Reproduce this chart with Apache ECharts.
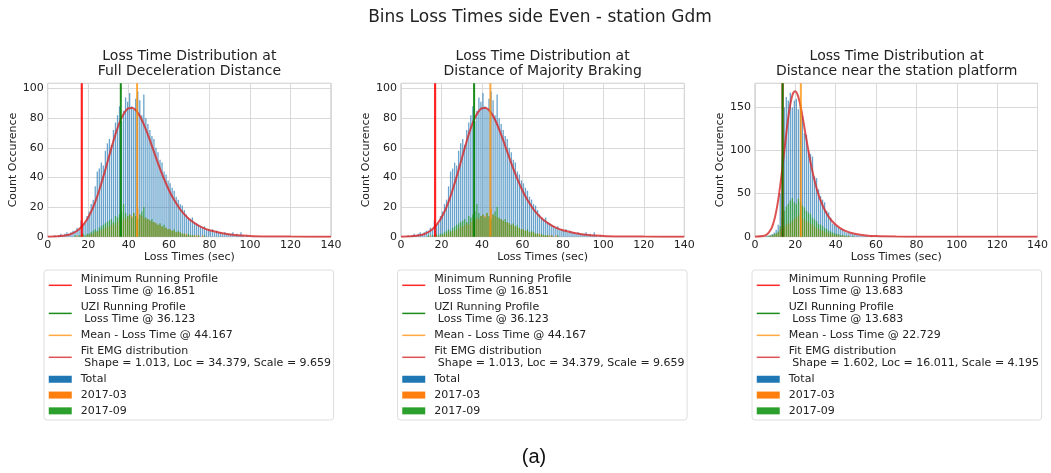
<!DOCTYPE html>
<html>
<head>
<meta charset="utf-8">
<script src="https://cdn.jsdelivr.net/npm/echarts@6/dist/echarts.min.js"></script>
<style>
  html, body { margin: 0; padding: 0; background: #fff; }
  #chart { width: 1051px; height: 473px; }
</style>
</head>
<body>
<div id="chart"></div>
<script>
// Histogram counts in 1-second bins, first bin starts at 0 s
const binWidth = 1;

// Braking zones (full deceleration / majority braking share the same sample)
const totalBraking = [
  0, 0, 0, 1, 0, 1, 2, 1, 2, 3,
  2, 3, 4, 4, 6, 5, 11, 8, 9, 14,
  17, 22, 25, 34, 44, 46, 50, 48, 58, 63,
  66, 62, 72, 77, 82, 88, 78, 85, 94, 91,
  97, 88, 86, 93, 98, 92, 82, 96, 80, 76,
  72, 68, 66, 60, 57, 52, 50, 44, 42, 38,
  36, 33, 31, 27, 25, 22, 21, 18, 15, 13,
  12, 13, 10, 9, 8, 7, 6, 7, 5, 5,
  4, 5, 3, 4, 3, 3, 2, 3, 2, 2,
  2, 3, 1, 2, 1, 3, 1, 0, 1, 0
];
const march2017Braking = [
  0, 0, 0, 0, 0, 0, 0, 0, 0, 0,
  0, 0, 0, 0, 1, 0, 1, 1, 0, 1,
  1, 2, 2, 3, 3, 4, 4, 5, 6, 7,
  7, 8, 9, 8, 10, 12, 11, 13, 12, 14,
  15, 14, 16, 13, 19, 15, 14, 13, 12, 12,
  11, 10, 10, 9, 8, 8, 7, 6, 6, 5,
  5, 4, 4, 3, 3, 3, 2, 2, 2, 1,
  1, 1, 1, 1, 1, 0, 1, 0, 0, 0,
  0, 0, 0, 0, 0, 0, 0, 0, 0, 0,
  0, 0, 0, 0, 0, 0, 0, 0, 0, 0
];
const sept2017Braking = [
  0, 0, 0, 0, 0, 0, 0, 0, 0, 0,
  0, 0, 0, 1, 0, 1, 1, 2, 1, 2,
  2, 3, 4, 5, 4, 6, 7, 8, 9, 10,
  11, 12, 10, 14, 13, 15, 17, 22, 16, 14,
  15, 13, 16, 14, 12, 15, 17, 20, 13, 12,
  11, 12, 10, 9, 8, 9, 7, 8, 6, 5,
  5, 4, 5, 3, 4, 3, 2, 2, 1, 2,
  1, 1, 1, 0, 1, 0, 0, 1, 0, 0,
  0, 0, 0, 0, 0, 0, 0, 0, 0, 0,
  0, 0, 0, 0, 0, 0, 0, 0, 0, 0
];

// Near the station platform
const totalPlatform = [
  0, 0, 0, 0, 0, 1, 1, 2, 3, 5,
  8, 14, 50, 93, 150, 162, 158, 167, 150, 158,
  160, 148, 155, 140, 120, 118, 100, 96, 93, 70,
  68, 55, 47, 43, 40, 30, 28, 22, 15, 14,
  12, 10, 9, 8, 6, 5, 5, 4, 3, 3,
  2, 2, 1, 1, 1, 1, 0, 1, 0, 0
];
const march2017Platform = [
  0, 0, 0, 0, 0, 0, 0, 1, 1, 2,
  3, 5, 8, 10, 12, 14, 16, 15, 18, 20,
  22, 24, 26, 21, 20, 18, 17, 15, 14, 12,
  10, 9, 8, 7, 6, 5, 4, 3, 3, 2,
  2, 1, 1, 1, 1, 0, 1, 0, 0, 0,
  0, 0, 0, 0, 0, 0, 0, 0, 0, 0
];
const sept2017Platform = [
  0, 0, 0, 0, 0, 0, 1, 1, 2, 3,
  4, 6, 12, 22, 30, 35, 38, 42, 45, 40,
  38, 44, 40, 36, 34, 30, 28, 26, 22, 20,
  18, 15, 14, 12, 10, 9, 7, 6, 5, 4,
  3, 3, 2, 2, 1, 1, 1, 0, 1, 0,
  0, 0, 0, 0, 0, 0, 0, 0, 0, 0
];

// Fitted EMG curves, in counts
const fitBrakingX = [0, 5, 10, 12, 14, 16, 18, 20, 22, 24, 26, 28, 30, 32, 34, 36, 38, 40, 42, 44, 46, 48, 50, 52, 54, 56, 58, 60, 62, 65, 67, 70, 75, 80, 90, 100, 110, 120, 140];
const fitBrakingY = [0.04, 0.25, 1.2, 2.1, 3.5, 5.7, 8.8, 13.0, 18.5, 25.4, 33.7, 42.9, 52.6, 62.3, 71.2, 78.6, 83.9, 86.7, 86.9, 84.6, 80.2, 74.1, 67.0, 59.3, 51.5, 44.1, 37.3, 31.2, 25.9, 19.4, 15.9, 11.8, 7.1, 4.3, 1.5, 0.55, 0.2, 0.07, 0.01];
const fitPlatformX = [0, 4, 6, 8, 9, 10, 11, 12, 13, 14, 15, 16, 17, 18, 19, 20, 21, 22, 23, 24, 26, 28, 30, 32, 35, 38, 42, 46, 50, 55, 60, 70, 80, 140];
const fitPlatformY = [0.02, 0.7, 2.8, 9.0, 15.0, 23.6, 35.4, 50.5, 68.5, 88.7, 109.5, 129.4, 146.6, 159.5, 167.1, 168.9, 165.5, 157.6, 146.6, 133.4, 105.8, 80.7, 60.5, 45.1, 28.9, 18.5, 10.2, 5.6, 3.1, 1.5, 0.7, 0.16, 0.04, 0];

// Reference loss times (sec) and fit parameters
const minRunning = [16.851, 16.851, 13.683];
const uziRunning = [36.123, 36.123, 13.683];
const meanLoss = [44.167, 44.167, 22.729];
const emgShape = [1.013, 1.013, 1.602];
const emgLoc = [34.379, 34.379, 16.011];
const emgScale = [9.659, 9.659, 4.195];

const panelTitles = [
  'Loss Time Distribution at\nFull Deceleration Distance',
  'Loss Time Distribution at\nDistance of Majority Braking',
  'Loss Time Distribution at\nDistance near the station platform'
];
const suptitle = 'Bins Loss Times side Even - station Gdm';
const caption = '(a)';
const xLabel = 'Loss Times (sec)';
const yLabel = 'Count Occurence';

const FONT = 'DejaVu Sans';
const TXT = '#222';

const panels = [
  { total: totalBraking, m03: march2017Braking, m09: sept2017Braking, fitX: fitBrakingX, fitY: fitBrakingY,
    left: 47.7, yMax: 103.5, yInterval: 20, legendLeft: 44 },
  { total: totalBraking, m03: march2017Braking, m09: sept2017Braking, fitX: fitBrakingX, fitY: fitBrakingY,
    left: 401, yMax: 103.5, yInterval: 20, legendLeft: 397.5 },
  { total: totalPlatform, m03: march2017Platform, m09: sept2017Platform, fitX: fitPlatformX, fitY: fitPlatformY,
    left: 755, yMax: 178, yInterval: 50, legendLeft: 752 }
];
const plotWidth = 283.3, plotTop = 83.3, plotHeight = 153.4;

const fmt = v => v.toFixed(3);
const bins = arr => arr.map((v, i) => [i * binWidth + binWidth / 2, v]);
const pairs = (xs, ys) => xs.map((x, i) => [x, ys[i]]);

const grids = [], xAxes = [], yAxes = [], series = [], legends = [];
const titles = [
  { text: suptitle, left: 540, top: 8, textAlign: 'center', padding: 0,
    textStyle: { fontFamily: FONT, fontSize: 17, fontWeight: 'normal', color: TXT, lineHeight: 20 } },
  { text: caption, left: 534, top: 446, textAlign: 'center', padding: 0,
    textStyle: { fontFamily: 'Liberation Sans', fontSize: 20, fontWeight: 'normal', color: '#111', lineHeight: 22 } }
];

panels.forEach((p, k) => {
  const names = {
    min: 'Minimum Running Profile\n Loss Time @ ' + fmt(minRunning[k]),
    uzi: 'UZI Running Profile\n Loss Time @ ' + fmt(uziRunning[k]),
    mean: 'Mean - Loss Time @ ' + fmt(meanLoss[k]),
    fit: 'Fit EMG distribution\n Shape = ' + fmt(emgShape[k]) + ', Loc = ' + fmt(emgLoc[k]) + ', Scale = ' + fmt(emgScale[k])
  };

  grids.push({ left: p.left, top: plotTop, width: plotWidth, height: plotHeight,
    show: true, borderColor: '#bdbdbd', borderWidth: 1, backgroundColor: '#fff' });

  xAxes.push({
    type: 'value', gridIndex: k, min: 0, max: 140, interval: 20,
    axisLine: { show: false }, axisTick: { show: false },
    splitLine: { show: true, lineStyle: { color: '#d9d9d9', width: 1 } },
    axisLabel: { fontFamily: FONT, fontSize: 11, color: TXT, margin: 3 },
    name: xLabel, nameLocation: 'middle', nameGap: 13,
    nameTextStyle: { fontFamily: FONT, fontSize: 11, color: TXT }
  });
  yAxes.push({
    type: 'value', gridIndex: k, min: 0, max: p.yMax, interval: p.yInterval,
    axisLine: { show: false }, axisTick: { show: false },
    splitLine: { show: true, lineStyle: { color: '#d9d9d9', width: 1 } },
    axisLabel: { fontFamily: FONT, fontSize: 11, color: TXT, margin: 4, showMaxLabel: false },
    name: yLabel, nameLocation: 'middle', nameGap: 23,
    nameTextStyle: { fontFamily: FONT, fontSize: 11, color: TXT }
  });

  const barBase = { type: 'bar', xAxisIndex: k, yAxisIndex: k, barWidth: 1.3, barGap: '-100%', animation: false };
  series.push(
    Object.assign({}, barBase, { name: 'Total', data: bins(p.total), itemStyle: { color: '#1f77b4', opacity: 0.68 } }),
    Object.assign({}, barBase, { name: '2017-03', data: bins(p.m03), itemStyle: { color: '#ff7f0e', opacity: 0.75 } }),
    Object.assign({}, barBase, { name: '2017-09', data: bins(p.m09), itemStyle: { color: '#2ca02c', opacity: 0.75 } }),
    { type: 'line', name: names.fit, xAxisIndex: k, yAxisIndex: k, data: pairs(p.fitX, p.fitY),
      smooth: 0.3, symbol: 'none', z: 3,
      itemStyle: { color: '#d9534f' }, lineStyle: { color: '#d62728', width: 2, opacity: 0.8 } },
    { type: 'line', name: names.min, xAxisIndex: k, yAxisIndex: k,
      data: [[minRunning[k], 0], [minRunning[k], p.yMax]], symbol: 'none', z: 4,
      itemStyle: { color: '#ff0000' }, lineStyle: { color: '#ff0000', width: 2.2, opacity: 0.85 } },
    { type: 'line', name: names.uzi, xAxisIndex: k, yAxisIndex: k,
      data: [[uziRunning[k], 0], [uziRunning[k], p.yMax]], symbol: 'none', z: 4,
      itemStyle: { color: '#008000' }, lineStyle: { color: '#008000', width: 2, opacity: 0.9 } },
    { type: 'line', name: names.mean, xAxisIndex: k, yAxisIndex: k,
      data: [[meanLoss[k], 0], [meanLoss[k], p.yMax]], symbol: 'none', z: 4,
      itemStyle: { color: '#ff8c00' }, lineStyle: { color: '#ff8c00', width: 2, opacity: 0.75 } }
  );

  const lineItem = n => ({ name: n, itemStyle: { opacity: 0 }, lineStyle: { width: 1.5 } });
  const barItem = n => ({ name: n, icon: 'rect', itemStyle: { opacity: 1 } });
  legends.push({
    left: p.legendLeft, top: 270, orient: 'vertical', selectedMode: false,
    padding: [3, 2.5, 3, 4], itemWidth: 23, itemHeight: 7, itemGap: 3.5,
    borderColor: '#dedede', borderWidth: 1, borderRadius: 3, backgroundColor: '#fff',
    textStyle: { fontFamily: FONT, fontSize: 11, lineHeight: 12.3, color: TXT, padding: [0, 0, 0, 4] },
    data: [lineItem(names.min), lineItem(names.uzi), lineItem(names.mean), lineItem(names.fit),
           barItem('Total'), barItem('2017-03'), barItem('2017-09')]
  });

  titles.push({
    text: panelTitles[k], left: p.left + plotWidth / 2, top: 48.7, textAlign: 'center', padding: 0,
    textStyle: { fontFamily: FONT, fontSize: 14, fontWeight: 'normal', color: TXT, lineHeight: 15 }
  });
});

const chart = echarts.init(document.getElementById('chart'), null, { renderer: 'canvas' });
chart.setOption({
  animation: false,
  backgroundColor: '#fff',
  title: titles,
  grid: grids,
  xAxis: xAxes,
  yAxis: yAxes,
  legend: legends,
  series: series
});
</script>
</body>
</html>
